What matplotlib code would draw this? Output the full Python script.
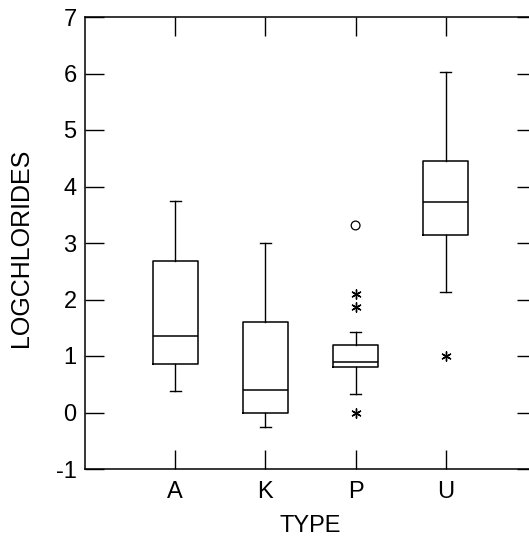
import matplotlib.pyplot as plt

plt.rcParams["font.family"] = ["Liberation Sans", "DejaVu Sans"]
plt.rcParams["axes.unicode_minus"] = False

# box summaries per TYPE
types = ["A", "K", "P", "U"]
whislo = [0.38, -0.25, 0.32, 2.13]
q1 = [0.86, -0.01, 0.81, 3.15]
med = [1.36, 0.39, 0.90, 3.72]
q3 = [2.68, 1.61, 1.20, 4.46]
whishi = [3.75, 3.00, 1.43, 6.02]

# outside values (asterisks) and far outside values (circles)
out_type = [3, 3, 3, 4]
out_val = [2.09, 1.86, 0.0, 1.00]
far_type = [3]
far_val = [3.31]

stats = []
for i in range(len(types)):
    stats.append({"whislo": whislo[i], "q1": q1[i], "med": med[i],
                  "q3": q3[i], "whishi": whishi[i], "fliers": []})

fig = plt.figure(figsize=(5.29, 5.42), dpi=100)
ax = fig.add_axes([85 / 529, 73 / 542, 451 / 529, 452 / 542])

pos = list(range(1, len(types) + 1))
ax.bxp(stats, positions=pos, widths=0.5, showfliers=False,
       boxprops=dict(color="black", linewidth=1.1),
       medianprops=dict(color="black", linewidth=1.1),
       whiskerprops=dict(color="black", linewidth=1.0),
       capprops=dict(color="black", linewidth=1.0),
       capwidths=0.12)

ax.scatter(out_type, out_val, marker=(6, 2, 0), s=45, color="black",
           linewidths=1.0, zorder=3)
ax.scatter(far_type, far_val, marker="o", s=40, facecolors="none",
           edgecolors="black", linewidths=0.9, zorder=3)

ax.set_xlim(0, 5)
ax.set_ylim(-1, 7)
ax.set_xticks(pos)
ax.set_xticklabels(types)
ax.set_yticks(range(-1, 8))
ax.tick_params(direction="in", length=14, width=1.0, labelsize=17,
               top=True, right=True)
ax.tick_params(axis="x", pad=9)
ax.tick_params(axis="y", pad=6)
for s in ax.spines.values():
    s.set_linewidth(1.1)

ax.set_xlabel("TYPE", fontsize=17, labelpad=8)
ax.set_ylabel("LOGCHLORIDES", fontsize=18)
ax.yaxis.set_label_coords(-0.115, 0.49)

fig.savefig("out.png", dpi=100)
